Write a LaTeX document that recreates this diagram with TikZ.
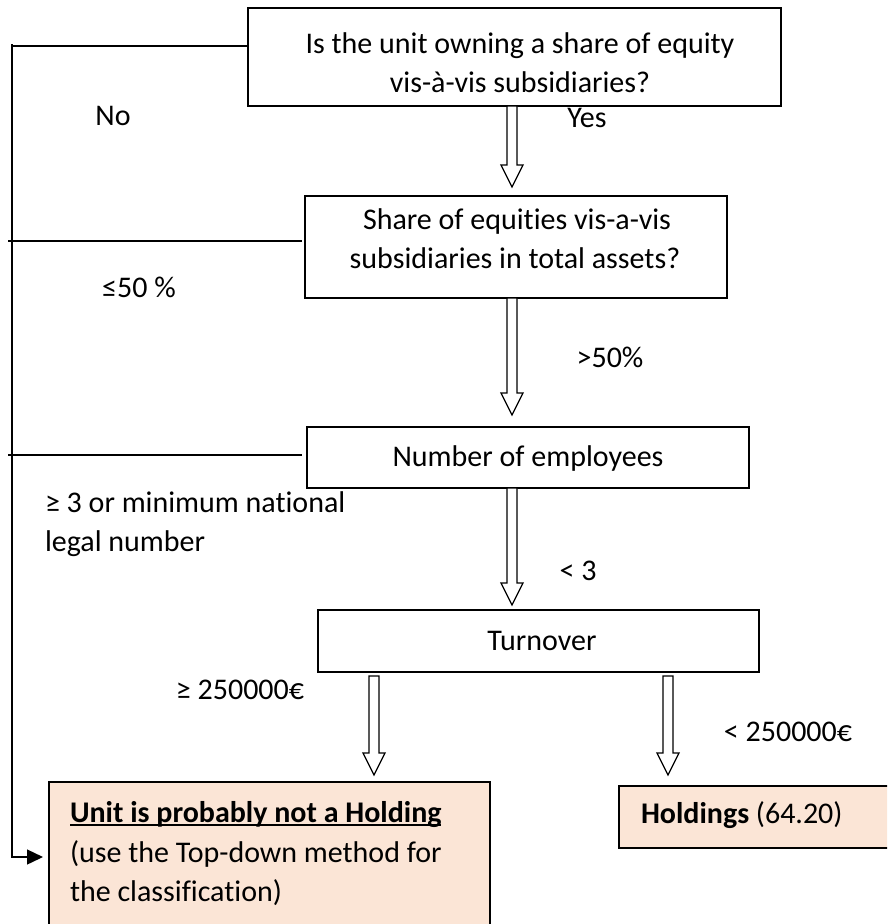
\documentclass[tikz,border=0pt]{standalone}
\usepackage{fontspec}
\setmainfont{Carlito}[Ligatures={NoCommon}]
\usetikzlibrary{arrows.meta,calc}
\definecolor{peach}{HTML}{FBE5D6}
\tikzset{
  box/.style={draw=black, line width=1.6pt, inner sep=0pt, outer sep=0pt},
  resbox/.style={box, fill=peach},
  lbl/.style={inner sep=0pt, outer sep=0pt, anchor=base},
  lbll/.style={inner sep=0pt, outer sep=0pt, anchor=base west},
  conn/.style={draw=black, line width=1.4pt},
  barrow/.style={draw=black, line width=1.3pt, fill=white, line join=miter}
}
\newcommand\blockarr[2]{\draw[barrow] let \p1=(#1), \p2=(#2) in
  (\x2-5pt,\y1) -- (\x2-5pt,\y2+22pt) -- (\x2-11pt,\y2+22pt) -- (\x2,\y2) --
  (\x2+11pt,\y2+22pt) -- (\x2+5pt,\y2+22pt) -- (\x2+5pt,\y1) -- cycle;}
\begin{document}
\begin{tikzpicture}[x=1pt,y=-1pt,font=\fontsize{30}{40}\selectfont]
\useasboundingbox (0,0) rectangle (887,924);
\clip (0,0) rectangle (887,924);
% boxes
\node[box, minimum width=533pt, minimum height=98pt] (b1) at (514.5,57) {};
\node[box, minimum width=422pt, minimum height=102pt] (b2) at (516,247) {};
\node[box, minimum width=442pt, minimum height=61pt] (b3) at (528,457.5) {};
\node[box, minimum width=441pt, minimum height=62pt] (b4) at (538.5,641) {};
\node[resbox, minimum width=441pt, minimum height=153pt] (b5) at (269.5,858.5) {};
\node[resbox, minimum width=276pt, minimum height=62pt] (b6) at (757,817) {};
% box texts
\node[lbl] (t1a) at (520,53) {Is the unit owning a share of equity};
\node[lbl] (t1b) at (520,92) {vis-à-vis subsidiaries?};
\node[lbl] (t2a) at (517,229) {Share of equities vis-a-vis};
\node[lbl] (t2b) at (515,268) {subsidiaries in total assets?};
\node[lbl] (t3) at (528,466) {Number of employees};
\node[lbl] (t4) at (542,650) {Turnover};
\node[lbll] (t5a) at (70,822) {\textbf{Unit is probably not a Holding}};
\draw[line width=1.5pt] ([yshift=-3pt]t5a.base west) -- ([yshift=-3pt]t5a.base east);
\node[lbll] (t5b) at (70,862) {(use the Top-down method for};
\node[lbll] (t5c) at (70,901) {the classification)};
\node[lbll] (t6) at (641,823) {\textbf{Holdings} (64.20)};
% edge labels
\node[lbl] (lno) at (113,125) {No};
\node[lbl] (lyes) at (587,127) {Yes};
\node[lbl] (lle50) at (139,297) {≤50 \%};
\node[lbl] (lgt50) at (610,367) {>50\%};
\node[lbll] (lge3a) at (45,512) {≥ 3 or minimum national};
\node[lbll] (lge3b) at (45,551) {legal number};
\node[lbl] (llt3) at (578,580) {< 3};
\node[lbl] (lge250) at (240,699) {≥ 250000€};
\node[lbl] (llt250) at (788,741) {< 250000€};
% block arrow tips
\coordinate (p1) at (512,187);
\coordinate (p2) at (512,415);
\coordinate (p3) at (512,605);
\coordinate (p4) at (374,775);
\coordinate (p5) at (668,775);
\blockarr{b1.south -| p1}{p1}
\blockarr{b2.south -| p2}{p2}
\blockarr{b3.south -| p3}{p3}
\blockarr{$(b4.south -| p4)+(0,4)$}{p4}
\blockarr{$(b4.south -| p5)+(0,4)$}{p5}
% "no" connectors
\coordinate (k0) at (12,44);
\coordinate (k1) at (12,46);
\coordinate (k2) at (12,857);
\coordinate (k3) at (8,241);
\coordinate (k4) at (8,455);
\draw[conn, shorten >=1pt] (k1) -- (b1.west |- k1);
\draw[conn, -{Triangle[length=16pt,width=15pt]}, shorten >=6pt] (k0) -- (k2) -- (b5.west |- k2);
\draw[conn, shorten >=3pt] (k3) -- (b2.west |- k3);
\draw[conn, shorten >=5pt] (k4) -- (b3.west |- k4);
\end{tikzpicture}
\end{document}
